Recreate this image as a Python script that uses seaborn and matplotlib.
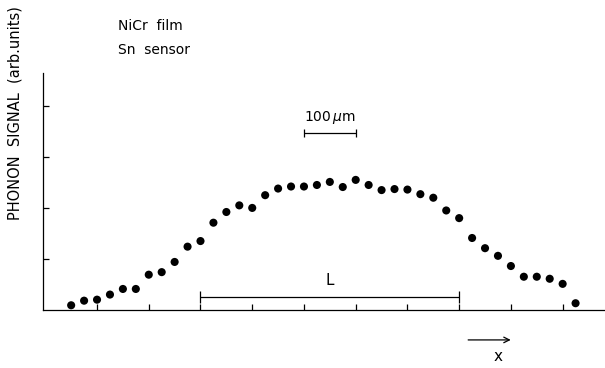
import numpy as np
import pandas as pd
import seaborn as sns
import matplotlib.pyplot as plt

# position along the sample (um) and phonon signal (arb. units)
position = [50 + 25 * i for i in range(40)]
signal = [0.09, 0.18, 0.20, 0.30, 0.41, 0.41, 0.69, 0.74, 0.94, 1.24,
          1.35, 1.71, 1.92, 2.05, 2.00, 2.25, 2.38, 2.42, 2.42, 2.45,
          2.51, 2.41, 2.55, 2.45, 2.35, 2.37, 2.36, 2.27, 2.20, 1.95,
          1.80, 1.41, 1.21, 1.06, 0.86, 0.65, 0.65, 0.61, 0.51, 0.13]
x_ticks = [100, 200, 300, 400, 500, 600, 700, 800, 900, 1000]
y_ticks = [1, 2, 3, 4]

df = pd.DataFrame({'x': position, 'signal': signal})

sns.set_style("ticks")
plt.rcParams['font.family'] = ['DejaVu Sans']
plt.rcParams['text.color'] = 'black'
plt.rcParams['axes.labelcolor'] = 'black'

fig = plt.figure(figsize=(6.05, 3.68), dpi=100)
ax = fig.add_axes([0.0711, 0.158, 0.929, 0.644])

sns.scatterplot(data=df, x='x', y='signal', ax=ax, color='black',
                s=34, edgecolor='none', legend=False)

ax.set_xlim(-4.4, 1082)
ax.set_ylim(0, 4.65)
ax.set_xticks(x_ticks)
ax.set_yticks(y_ticks)
ax.set_xticklabels([])
ax.set_yticklabels([])
ax.tick_params(direction='in', length=4, width=0.9, color='black')
sns.despine(ax=ax)
for sp in ['left', 'bottom']:
    ax.spines[sp].set_linewidth(0.9)
    ax.spines[sp].set_color('black')
ax.set_xlabel('')
ax.set_ylabel('PHONON  SIGNAL  (arb.units)', fontsize=10.5, color='black')
ax.yaxis.set_label_coords(-0.036, 0.83)

# 100 um scale bar
ax.errorbar([550], [3.47], xerr=[[50], [50]], fmt='none', ecolor='black',
            elinewidth=0.9, capsize=3, capthick=0.9)
ax.text(550, 3.6, '100$\\,\\mu$m', ha='center', va='bottom', fontsize=10)

# L bar
ax.errorbar([550], [0.26], xerr=[[250], [250]], fmt='none', ecolor='black',
            elinewidth=0.9, capsize=4, capthick=0.9)
ax.text(550, 0.42, 'L', ha='center', va='bottom', fontsize=11)

# direction arrow
ax.annotate('', xy=(905, -0.59), xytext=(812, -0.59),
            xycoords='data', annotation_clip=False,
            arrowprops=dict(arrowstyle='->', color='black', lw=0.9))
ax.text(876, -0.92, 'x', ha='center', va='center', fontsize=11)

fig.text(0.195, 0.93, 'NiCr  film', ha='left', va='center', fontsize=10)
fig.text(0.195, 0.863, 'Sn  sensor', ha='left', va='center', fontsize=10)

fig.savefig('out.png', dpi=100)
